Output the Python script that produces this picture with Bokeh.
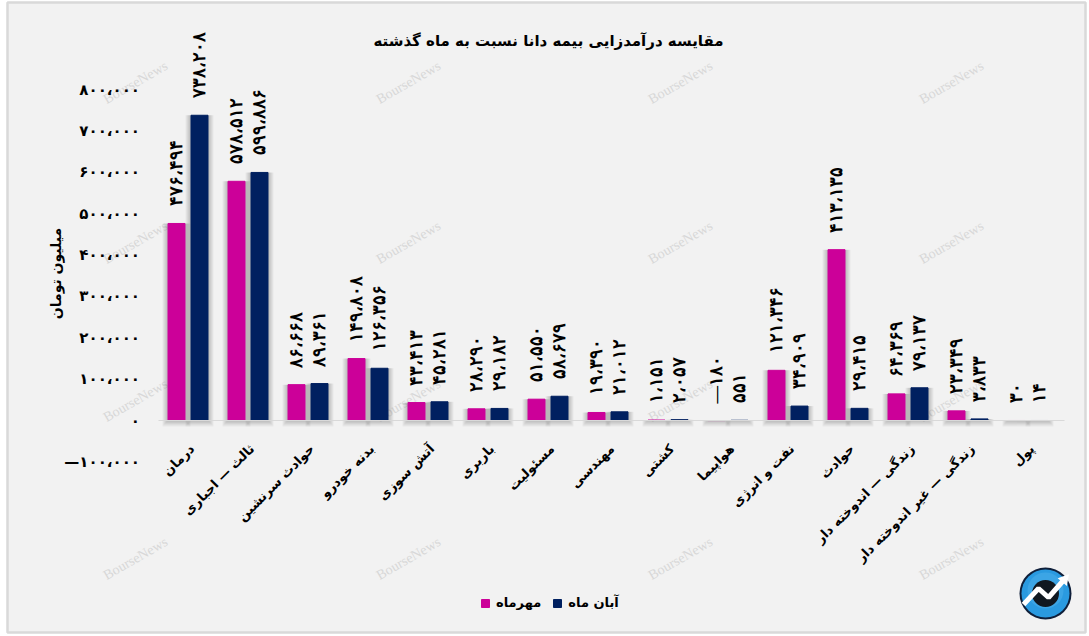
from bokeh.plotting import figure
from bokeh.models import ColumnDataSource, FixedTicker, Range1d, LabelSet, Label, Legend, LegendItem
from bokeh.embed import file_html
from bokeh.resources import INLINE
from math import pi

FONT = "DejaVu Sans"
categories = ["درمان", "ثالث — اجباری", "حوادث سرنشین", "بدنه خودرو", "آتش سوزی", "باربری", "مسئولیت", "مهندسی",
              "کشتی", "هواپیما", "نفت و انرژی", "حوادث", "زندگی — اندوخته دار", "زندگی — غیر اندوخته دار", "پول"]
mehr = [476494, 578512, 86668, 149808, 43413, 28290, 51550, 19390, 1151, -180, 121346, 413135, 64369, 23349, 30]
aban = [738208, 599886, 89361, 126356, 45281, 29182, 58679, 21012, 2057, 551, 34909, 29415, 79137, 3833, 14]
series_names = ["مهرماه", "آبان ماه"]
y_ticks = [-100000, 0, 100000, 200000, 300000, 400000, 500000, 600000, 700000, 800000]
title_text = "مقایسه درآمدزایی بیمه دانا نسبت به ماه گذشته"
y_title = "میلیون تومان"
watermark = "BourseNews"
MAGENTA, NAVY = "#cc0099", "#002060"

def fa(n):
    s = f"{abs(n):,}".replace(",", "،")
    s = s.translate(str.maketrans("0123456789", "۰۱۲۳۴۵۶۷۸۹"))
    return ("—" if n < 0 else "") + s

# pixel geometry of the card
W, H = 1089, 636
L, R, T, B = 7, 1085, 2, 632
UX = 60.0          # px per category
X0 = 187.5         # px of first category
Y0 = 420.0         # px of zero
UY = 41.35 / 100000
fx = lambda px: (px - X0) / UX
fy = lambda py: (Y0 - py) / UY

p = figure(width=W, height=H, output_backend="svg", toolbar_location=None,
           x_range=Range1d(fx(L), fx(R)), y_range=Range1d(fy(B), fy(T)),
           min_border_left=L, min_border_right=W - R, min_border_top=T, min_border_bottom=H - B,
           background_fill_color="#f2f2f2", border_fill_color="white",
           outline_line_color="#d9d9d9", outline_line_width=2.5,
           x_axis_type="linear", y_axis_type="linear")
p.styles = {"position": "absolute", "left": "0px", "top": "0px"}
p.grid.visible = False

# axes
ya = p.yaxis[0]
ya.fixed_location = -0.5
ya.ticker = FixedTicker(ticks=y_ticks)
ya.major_label_overrides = {v: fa(v) for v in y_ticks}
ya.axis_line_color = None
ya.major_tick_line_color = None
ya.minor_tick_line_color = None
ya.major_label_standoff = 12
ya.major_label_text_font = FONT
ya.major_label_text_font_style = "bold"
ya.major_label_text_font_size = "15px"
ya.major_label_text_color = "black"

xa = p.xaxis[0]
LABEL_SHIFT = 4 / UX
tick_pos = [i + LABEL_SHIFT for i in range(len(categories))]
xa.fixed_location = 0
xa.bounds = (-0.5, 14.6)
xa.ticker = FixedTicker(ticks=tick_pos)
xa.major_label_overrides = {t: c for t, c in zip(tick_pos, categories)}
xa.axis_line_color = "#d9d9d9"
xa.major_tick_line_color = None
xa.minor_tick_line_color = None
xa.major_label_standoff = 20
xa.major_label_orientation = pi / 4
xa.major_label_text_font = FONT
xa.major_label_text_font_style = "bold"
xa.major_label_text_font_size = "13px"
xa.major_label_text_color = "black"

# watermarks
for wy in (82, 242, 400, 558):
    for wx in (135, 408, 680, 951):
        p.add_layout(Label(x=fx(wx), y=fy(wy), text=watermark, angle=30, angle_units="deg",
                           text_align="center", text_baseline="middle", text_font="Liberation Serif",
                           text_font_size="14px", text_color="#d8d8d8", level="underlay"))

xs = list(range(len(categories)))
OFF = 11.5 / UX
BW = 18 / UX
src_m = ColumnDataSource(dict(x=[i - OFF for i in xs], v=mehr, t=[fa(v) for v in mehr], b=[0] * len(xs)))
src_a = ColumnDataSource(dict(x=[i + OFF for i in xs], v=aban, t=[fa(v) for v in aban], b=[0] * len(xs)))

# soft drop shadow
for src in (src_m, src_a):
    for k in (5, 4, 3, 2, 1):
        p.vbar(x="x", width=BW + 2 * k / UX, bottom=-k * 1.2 / 41.35 * 100000 , top="v", source=src,
               fill_color="black", fill_alpha=0.045, line_color=None)

r_m = p.vbar(x="x", width=BW - 1 / UX, bottom="b", top="v", source=src_m, fill_color=MAGENTA, line_color=MAGENTA, line_width=1)
r_a = p.vbar(x="x", width=BW - 1 / UX, bottom="b", top="v", source=src_a, fill_color=NAVY, line_color=NAVY, line_width=1)

for src in (src_m, src_a):
    p.add_layout(LabelSet(x="x", y="v", text="t", source=src, angle=90, angle_units="deg", y_offset=17,
                          text_align="left", text_baseline="middle", text_font=FONT,
                          text_font_style="bold", text_font_size="17.5px", text_color="black"))

p.add_layout(Label(x=fx(548), y=fy(40), text=title_text, text_align="center", text_baseline="middle",
                   text_font=FONT, text_font_style="bold", text_font_size="15px", text_color="black"))
p.add_layout(Label(x=fx(55), y=fy(273), text=y_title, angle=90, angle_units="deg", text_align="center",
                   text_baseline="middle", text_font=FONT, text_font_style="bold",
                   text_font_size="14px", text_color="black"))

# logo
lx, ly = fx(1045), fy(593)
p.scatter([lx], [ly], size=52, fill_color="#0f1f3a", line_color=None)
p.scatter([lx], [ly], size=48, fill_color="#2a9ae0", line_color=None)
p.scatter([lx], [fy(590)], size=36, fill_color="#5fb9ee", fill_alpha=0.35, line_color=None)
p.scatter([lx], [ly], size=27, fill_color="#101820", line_color=None)
p.line([fx(1023), fx(1038), fx(1048), fx(1062)], [fy(604), fy(588), fy(597), fy(581)],
       line_color="white", line_width=5)
p.scatter([fx(1064)], [fy(579)], marker="triangle", size=12, fill_color="white", line_color=None, angle=-0.7)

legend = Legend(items=[LegendItem(label=series_names[0], renderers=[r_m]),
                       LegendItem(label=series_names[1], renderers=[r_a])],
                orientation="horizontal", location=(473, 22), background_fill_alpha=0, border_line_color=None,
                glyph_width=10, glyph_height=10, label_text_font=FONT, label_text_font_style="bold",
                label_text_font_size="13px", label_text_color="black", spacing=11, label_standoff=6, margin=0)
p.add_layout(legend, "center")

open("out.html", "w").write(file_html(p, INLINE))
